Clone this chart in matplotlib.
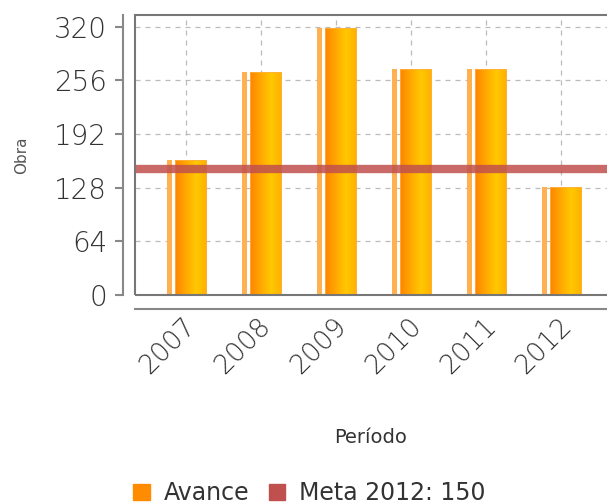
import matplotlib
matplotlib.use('Agg')
import matplotlib.pyplot as plt
import numpy as np
from matplotlib.colors import LinearSegmentedColormap
from matplotlib.patches import Rectangle, Patch
from matplotlib.transforms import ScaledTranslation

periodos = ['2007', '2008', '2009', '2010', '2011', '2012']
avance = [161, 266, 318, 270, 270, 129]
meta = 150
meta_label = 'Meta 2012: 150'
yticks = [0, 64, 128, 192, 256, 320]

gris = '#555555'
naranja = '#FF8C00'
rojo = '#C0504D'
fina = 'light'

fig = plt.figure(figsize=(6.07, 5.04), dpi=100)
ax = fig.add_axes([135/607, 1 - 295/504, 1 - 135/607, 280/504])

x = np.arange(len(periodos))
grad = LinearSegmentedColormap.from_list('g', ['#FF8400', '#FFA800', '#FFC800', '#FFB000'])
img = np.linspace(0, 1, 64).reshape(1, -1)

# barras principales con degradado
bars = ax.bar(x + 0.06, avance, width=0.42, color='none', edgecolor='#FFB040', lw=0.6, zorder=3)
for b in bars:
    x0, w, h = b.get_x(), b.get_width(), b.get_height()
    im = ax.imshow(img, cmap=grad, aspect='auto', extent=[x0, x0 + w, 0, h], zorder=2.5)
    im.set_clip_path(b)
# franja clara a la izquierda
ax.bar(x - 0.225, avance, width=0.07, color='#FFB050', edgecolor='none', zorder=2.5)

ax.axhline(meta, color=rojo, lw=6, alpha=0.85, zorder=4)

ax.set_xlim(-0.68, 5.61)
ax.set_ylim(0, 334)
ax.set_yticks(yticks)
ax.set_xticks(x)
ax.set_xticklabels(periodos)
ax.grid(True, ls=(0, (4, 4)), color='#BBBBBB', lw=0.9, zorder=0)
ax.set_axisbelow(True)

for s in ['top', 'right']:
    ax.spines[s].set_visible(False)
ax.spines['left'].set_position(('outward', 9))
ax.spines['bottom'].set_position(('outward', 10))
ax.spines['left'].set_color('#888888')
ax.spines['bottom'].set_color('#888888')
ax.spines['left'].set_linewidth(1.5)
ax.spines['bottom'].set_linewidth(1.5)
ax.add_patch(Rectangle((0, 0), 1.2, 1, transform=ax.transAxes, fill=False,
                       edgecolor='#777777', lw=1.5, zorder=5, clip_on=False))

ax.tick_params(axis='y', labelsize=20, labelcolor='#333333', color='#888888', length=6, width=1.5, pad=5)
ax.tick_params(axis='x', labelsize=19, labelcolor='#333333', length=0, pad=3)
for lbl in ax.get_yticklabels():
    lbl.set_fontweight(fina)
for lbl in ax.get_xticklabels():
    lbl.set_fontweight(fina)
    lbl.set_rotation(45)
    lbl.set_ha('right')
    lbl.set_va('top')
    lbl.set_rotation_mode('anchor')
    lbl.set_transform(lbl.get_transform() + ScaledTranslation(-0.03, 0, fig.dpi_scale_trans))

ax.set_ylabel('Obra', fontsize=11, color=gris, labelpad=18)
ax.set_xlabel('Período', fontsize=14, color='#333333', labelpad=36)

handles = [Patch(color=naranja), Patch(color=rojo)]
fig.legend(handles, ['Avance', meta_label], loc='lower center', bbox_to_anchor=(0.51, -0.045),
           ncol=2, frameon=False, fontsize=17, handlelength=0.7, handleheight=0.7,
           handletextpad=0.6, columnspacing=0.8, labelcolor='#333333')

fig.savefig('out.png', dpi=100)
